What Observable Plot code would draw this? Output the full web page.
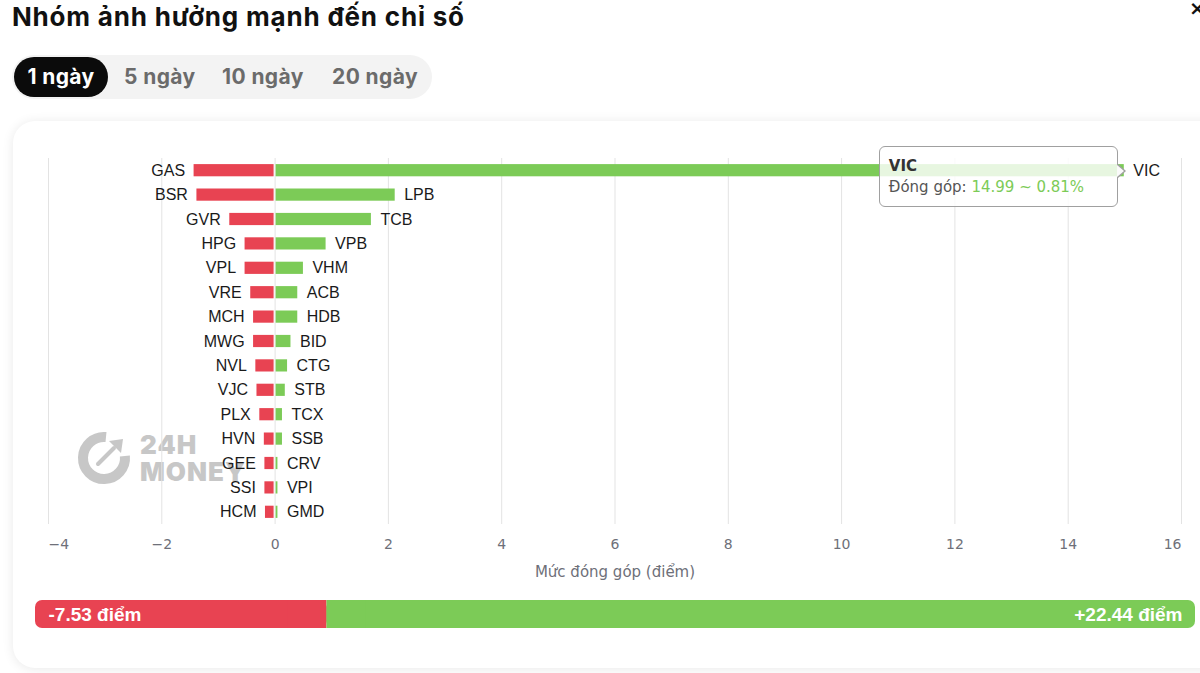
<!DOCTYPE html>
<html>
<head>
<meta charset="utf-8">
<script src="https://cdn.jsdelivr.net/npm/d3@7"></script>
<script src="https://cdn.jsdelivr.net/npm/@observablehq/plot@0.6"></script>
<style>
  html, body { margin: 0; padding: 0; background: #ffffff; width: 1200px; height: 673px; overflow: hidden; position: relative; }
  .title { position: absolute; left: 12px; top: 1px; font-family: Inter, "Noto Sans", sans-serif; font-weight: 700; font-size: 26px; color: #111; white-space: nowrap; letter-spacing: 0.8px; }
  .close { position: absolute; left: 1189px; top: -4px; font-family: "DejaVu Sans", sans-serif; font-weight: 700; font-size: 20px; color: #111; }
  .tabs { position: absolute; left: 12px; top: 55px; width: 420px; height: 44px; background: #f3f3f3; border-radius: 22px; }
  .tab { position: absolute; top: 2px; height: 40px; line-height: 40px; font-family: Inter, "Noto Sans", sans-serif; font-weight: 700; font-size: 21px; color: #6b6b6b; white-space: nowrap; letter-spacing: 0.4px; }
  .tab.active { background: #0b0b0b; color: #fff; border-radius: 20px; width: 94px; text-align: center; }
  .card { position: absolute; left: 13px; top: 121px; width: 1220px; height: 547px; background: #fff; border-radius: 22px; box-shadow: 0 1px 12px rgba(0,0,0,0.09); }
  .wm { position: absolute; left: 76px; top: 430px; opacity: 0.55; }
  .wmtext { position: absolute; left: 64px; font-family: Inter, "DejaVu Sans", sans-serif; font-weight: 900; font-size: 26px; color: #9a9a9a; letter-spacing: 1px; line-height: 26px; }
  #chart { position: absolute; left: 0; top: 150px; }
  #sumbar { position: absolute; left: 0; top: 600px; }
  .tip { position: absolute; background: rgba(255,255,255,0.82); border: 1px solid #a0a0a0; border-radius: 6px; box-sizing: border-box; padding: 9px 9px 5px 9px; font-family: "DejaVu Sans", sans-serif; }
  .tip::after { content: ""; position: absolute; right: -9px; top: 17px; width: 0; height: 0; border-top: 7px solid transparent; border-bottom: 7px solid transparent; border-left: 8px solid #a0a0a0; }
  .tip::before { content: ""; position: absolute; right: -7px; top: 18px; width: 0; height: 0; border-top: 6px solid transparent; border-bottom: 6px solid transparent; border-left: 7px solid rgba(255,255,255,0.95); z-index: 2; }
  .tip .t1 { font-size: 15px; font-weight: 600; color: #333; line-height: 20px; }
  .tip .t2 { font-size: 15px; color: #555; line-height: 22px; white-space: nowrap; }
  .tip .v { color: #7ccb57; }
</style>
</head>
<body>
<div class="title">Nhóm ảnh hưởng mạnh đến chỉ số</div>
<div class="close">×</div>
<div class="tabs">
  <div class="tab active" style="left:2px;">1 ngày</div>
  <div class="tab" style="left:112px;">5 ngày</div>
  <div class="tab" style="left:210px;">10 ngày</div>
  <div class="tab" style="left:320px;">20 ngày</div>
</div>
<div class="card"></div>
<div class="wm">
  <svg width="56" height="56" viewBox="0 0 56 56">
    <path d="M 30 7.1 A 21 21 0 1 0 48.9 26" fill="none" stroke="#9a9a9a" stroke-width="10"/>
    <line x1="22" y1="34" x2="38" y2="18" stroke="#9a9a9a" stroke-width="4" stroke-linecap="round"/>
    <polygon points="33,11 47,9 45,23" fill="#9a9a9a"/>
  </svg>
  <div class="wmtext" style="top:2px;">24H</div>
  <div class="wmtext" style="top:29px;">MONEY</div>
</div>
<div id="chart"></div>
<div id="sumbar"></div>
<script>
// ---- data ----
const negNames  = ["GAS","BSR","GVR","HPG","VPL","VRE","MCH","MWG","NVL","VJC","PLX","HVN","GEE","SSI","HCM"];
const negValues = [-1.43,-1.38,-0.80,-0.53,-0.53,-0.43,-0.38,-0.38,-0.34,-0.32,-0.27,-0.19,-0.18,-0.18,-0.17];
const posNames  = ["VIC","LPB","TCB","VPB","VHM","ACB","HDB","BID","CTG","STB","TCX","SSB","CRV","VPI","GMD"];
const posValues = [14.99,2.12,1.70,0.90,0.50,0.40,0.40,0.28,0.22,0.18,0.13,0.13,0.05,0.05,0.05];
const xTicks = [-4,-2,0,2,4,6,8,10,12,14,16];
const totalNeg = -7.53;
const totalPos = 22.44;
const tipName = "VIC";
const tipValue = 14.99;
const tipShare = "0.81%";
const axisTitle = "Mức đóng góp (điểm)";
const unit = "điểm";

const RED = "#e84352";
const GREEN = "#7ccb57";
const LABEL_FONT = "'Liberation Sans', Arial, sans-serif";
const AXIS_FONT = "'DejaVu Sans', sans-serif";

const rows = negNames.map((n, i) => ({rank: i, neg: n, negVal: negValues[i], pos: posNames[i], posVal: posValues[i]}));
const ranks = rows.map(d => d.rank);

const chart = Plot.plot({
  width: 1200,
  height: 440,
  marginLeft: 48,
  marginRight: 19,
  marginTop: 8,
  marginBottom: 66,
  style: {background: "transparent", overflow: "visible"},
  x: {domain: [-4, 16]},
  y: {domain: ranks, paddingInner: 0.5, paddingOuter: 0.25, round: false, axis: null},
  marks: [
    Plot.gridX(xTicks, {stroke: "#e3e3e3", strokeOpacity: 1, strokeWidth: 1}),
    Plot.barX(rows, {y: "rank", x1: "negVal", x2: 0, fill: RED, insetRight: 1}),
    Plot.barX(rows, {y: "rank", x1: 0, x2: "posVal", fill: GREEN, insetLeft: 1}),
    Plot.text(rows, {y: "rank", x: "negVal", text: "neg", textAnchor: "end", dx: -9, fill: "#1a1a1a", fontSize: 16, fontFamily: LABEL_FONT}),
    Plot.text(rows, {y: "rank", x: "posVal", text: "pos", textAnchor: "start", dx: 9, fill: "#1a1a1a", fontSize: 16, fontFamily: LABEL_FONT}),
    Plot.axisX(xTicks.slice(1, -1), {tickSize: 0, tickPadding: 15, fontSize: 14, fill: "#6e7079", fontFamily: AXIS_FONT, label: null}),
    Plot.axisX(xTicks.slice(0, 1), {tickSize: 0, tickPadding: 15, fontSize: 14, fill: "#6e7079", textAnchor: "start", fontFamily: AXIS_FONT, label: null}),
    Plot.axisX(xTicks.slice(-1), {tickSize: 0, tickPadding: 15, fontSize: 14, fill: "#6e7079", textAnchor: "end", fontFamily: AXIS_FONT, label: null}),
    Plot.text([axisTitle], {frameAnchor: "bottom", text: d => d, dy: 52, fontSize: 15, fill: "#6e7079", fontFamily: AXIS_FONT})
  ]
});
document.getElementById("chart").appendChild(chart);

// tooltip anchored to VIC bar end
const xs = chart.scale("x"), ys = chart.scale("y");
const tipIdx = posNames.indexOf(tipName);
const barEnd = xs.apply(posValues[tipIdx]);
const rowCenter = ys.apply(tipIdx) + ys.bandwidth / 2 + 150;
const tip = document.createElement("div");
tip.className = "tip";
const tipW = 239, tipH = 61;
tip.style.left = (barEnd - 6 - tipW) + "px";
tip.style.top = (rowCenter - 24) + "px";
tip.style.width = tipW + "px";
tip.style.height = tipH + "px";
tip.innerHTML = `<div class="t1">${tipName}</div><div class="t2">Đóng góp: <span class="v">${tipValue.toFixed(2)} ~ ${tipShare}</span></div>`;
document.body.appendChild(tip);

// summary bar
const total = -totalNeg + totalPos;
const segs = [
  {name: "neg", x1: 0, x2: -totalNeg, fill: RED},
  {name: "pos", x1: -totalNeg, x2: total, fill: GREEN}
];
const sum = Plot.plot({
  width: 1200,
  height: 28,
  marginLeft: 35,
  marginRight: 5,
  marginTop: 0,
  marginBottom: 0,
  style: {background: "transparent"},
  x: {domain: [0, total], axis: null},
  y: {axis: null},
  marks: [
    Plot.rectX(segs, {x1: "x1", x2: "x2", fill: "fill", rx: 7}),
    Plot.rectX(segs, {x1: d => d.name === "neg" ? d.x2 - 1 : d.x1, x2: d => d.name === "neg" ? d.x2 : d.x1 + 1, fill: "fill"}),
    Plot.text([totalNeg], {x: 0, frameAnchor: "middle", text: d => d.toFixed(2) + " " + unit, textAnchor: "start", dx: 13, fill: "#fff", fontSize: 19, fontWeight: 700, fontFamily: LABEL_FONT}),
    Plot.text([totalPos], {x: total, frameAnchor: "middle", text: d => "+" + d.toFixed(2) + " " + unit, textAnchor: "end", dx: -13, fill: "#fff", fontSize: 19, fontWeight: 700, fontFamily: LABEL_FONT})
  ]
});
document.getElementById("sumbar").appendChild(sum);
</script>
</body>
</html>
